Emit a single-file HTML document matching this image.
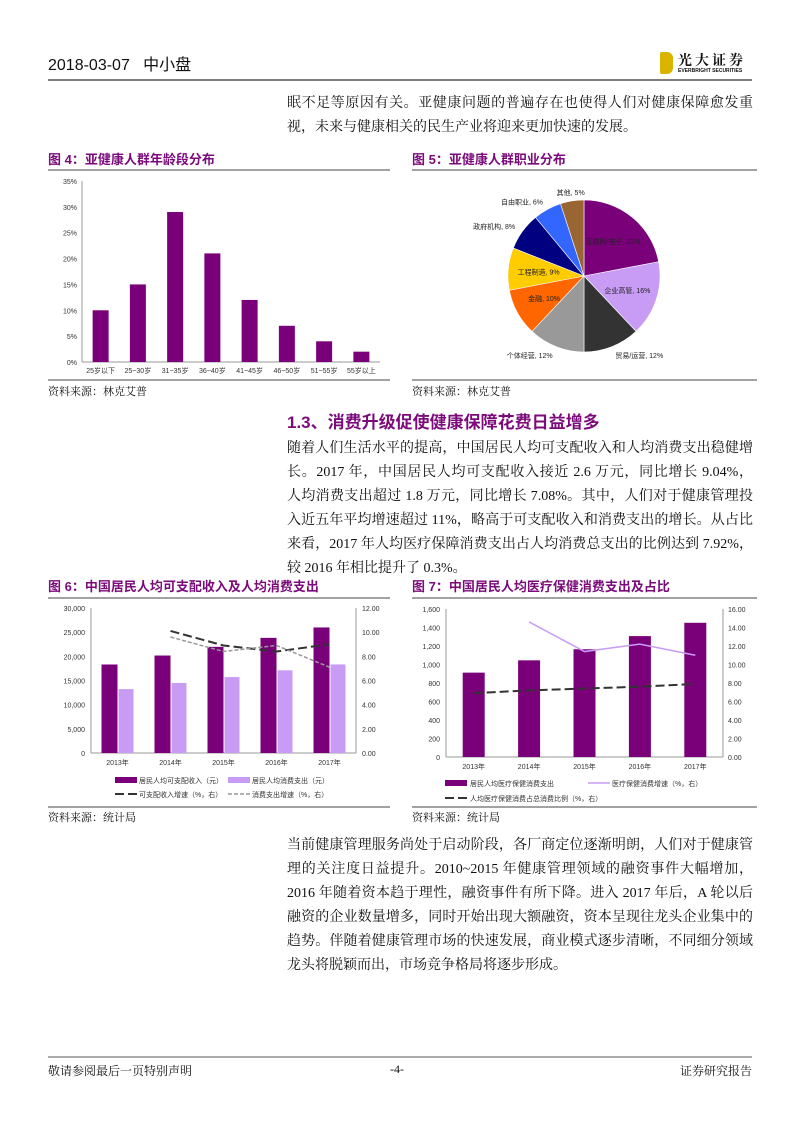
<!DOCTYPE html>
<html><head><meta charset="utf-8">
<style>
body{margin:0;background:#fff;}
#page{position:relative;width:800px;height:1132px;overflow:hidden;background:#fff;font-family:"Liberation Serif","Noto Serif CJK SC",serif;color:#111;}
.ln{position:absolute;left:287px;width:466px;font-size:14px;line-height:18px;white-space:nowrap;text-align:justify;text-align-last:justify;}
.ln.last{text-align-last:left;}
.abs{position:absolute;white-space:nowrap;}
.ftitle{font-family:"Liberation Sans","Noto Sans CJK SC",sans-serif;font-weight:bold;font-size:13px;color:#7b0a7b;}
.src{font-size:11px;font-family:"Liberation Serif","Noto Serif CJK SC",serif;}
svg text{font-family:"Liberation Sans","Noto Sans CJK SC",sans-serif;}
</style></head><body>
<div id="page">
<div class="abs" style="left:48px;top:56px;font-size:16px;line-height:20px;font-family:'Liberation Sans','Noto Sans CJK SC',sans-serif;">2018-03-07&nbsp;&nbsp;&nbsp;中小盘</div>
<div class="abs" style="left:660px;top:52px;">
  <div style="position:absolute;left:0;top:0;width:13px;height:22px;background:#d9b400;border-radius:2px 6px 6px 2px;"></div>
  <div style="position:absolute;left:18px;top:-2px;font-size:14px;font-weight:bold;font-family:'Noto Serif CJK SC',serif;letter-spacing:3px;">光大证券</div>
  <div style="position:absolute;left:18px;top:16px;font-size:5px;font-weight:bold;font-family:'Liberation Sans',sans-serif;">EVERBRIGHT SECURITIES</div>
</div>

<div class="ln" style="top:95px">眠不足等原因有关。亚健康问题的普遍存在也使得人们对健康保障愈发重</div>
<div class="ln last" style="top:119px">视，未来与健康相关的民生产业将迎来更加快速的发展。</div>

<div class="abs ftitle" style="left:48px;top:149px">图 4：亚健康人群年龄段分布</div>
<div class="abs ftitle" style="left:412px;top:149px">图 5：亚健康人群职业分布</div>
<div class="abs src" style="left:48px;top:383px">资料来源：林克艾普</div>
<div class="abs src" style="left:412px;top:383px">资料来源：林克艾普</div>

<div class="abs" style="left:287px;top:408px;font-size:17px;font-weight:bold;color:#7b0a7b;font-family:'Liberation Sans','Noto Sans CJK SC',sans-serif;">1.3、消费升级促使健康保障花费日益增多</div>
<div class="ln" style="top:440px">随着人们生活水平的提高，中国居民人均可支配收入和人均消费支出稳健增</div>
<div class="ln" style="top:464px">长。2017 年，中国居民人均可支配收入接近 2.6 万元，同比增长 9.04%，</div>
<div class="ln" style="top:488px">人均消费支出超过 1.8 万元，同比增长 7.08%。其中，人们对于健康管理投</div>
<div class="ln" style="top:512px">入近五年平均增速超过 11%，略高于可支配收入和消费支出的增长。从占比</div>
<div class="ln" style="top:536px">来看，2017 年人均医疗保障消费支出占人均消费总支出的比例达到 7.92%，</div>
<div class="ln last" style="top:560px">较 2016 年相比提升了 0.3%。</div>

<div class="abs ftitle" style="left:48px;top:576px">图 6：中国居民人均可支配收入及人均消费支出</div>
<div class="abs ftitle" style="left:412px;top:576px">图 7：中国居民人均医疗保健消费支出及占比</div>
<div class="abs src" style="left:48px;top:809px">资料来源：统计局</div>
<div class="abs src" style="left:412px;top:809px">资料来源：统计局</div>

<div class="ln" style="top:837px">当前健康管理服务尚处于启动阶段，各厂商定位逐渐明朗，人们对于健康管</div>
<div class="ln" style="top:861px">理的关注度日益提升。2010~2015 年健康管理领域的融资事件大幅增加，</div>
<div class="ln" style="top:885px">2016 年随着资本趋于理性，融资事件有所下降。进入 2017 年后，A 轮以后</div>
<div class="ln" style="top:909px">融资的企业数量增多，同时开始出现大额融资，资本呈现往龙头企业集中的</div>
<div class="ln" style="top:933px">趋势。伴随着健康管理市场的快速发展，商业模式逐步清晰，不同细分领域</div>
<div class="ln last" style="top:957px">龙头将脱颖而出，市场竞争格局将逐步形成。</div>

<div class="abs" style="left:48px;top:1062px;font-size:12px;">敬请参阅最后一页特别声明</div>
<div class="abs" style="left:390px;top:1062px;font-size:12px;">-4-</div>
<div class="abs" style="left:680px;top:1062px;font-size:12px;">证券研究报告</div>

<svg id="svg" width="800" height="1132" style="position:absolute;left:0;top:0"></svg>
</div>
<script>
// Figure 4 data
const ageCats = ['25岁以下','25~30岁','31~35岁','36~40岁','41~45岁','46~50岁','51~55岁','55岁以上'];
const ageVals = [10,15,29,21,12,7,4,2];
const ageTicks = ['0%','5%','10%','15%','20%','25%','30%','35%'];
// Figure 5 data
const jobCats = ['互联网/电子','企业高管','贸易/运营','个体经营','金融','工程制造','政府机构','自由职业','其他'];
const jobVals = [22,16,12,12,10,9,8,6,5];
// Figure 6 data
const years = ['2013年','2014年','2015年','2016年','2017年'];
const income = [18311,20167,21966,23821,25974];
const spend = [13220,14491,15712,17111,18322];
const incomeGrowth = [null,10.1,8.9,8.4,9.0];
const spendGrowth = [null,9.6,8.4,8.9,7.1];
const f6LeftTicks = ['0','5,000','10,000','15,000','20,000','25,000','30,000'];
const f6RightTicks = ['0.00','2.00','4.00','6.00','8.00','10.00','12.00'];
// Figure 7 data
const medSpend = [912,1045,1165,1307,1451];
const medGrowth = [null,14.6,11.4,12.2,11.0];
const medRatio = [6.9,7.2,7.4,7.6,7.9];
const f7LeftTicks = ['0','200','400','600','800','1,000','1,200','1,400','1,600'];
const f7RightTicks = ['0.00','2.00','4.00','6.00','8.00','10.00','12.00','14.00','16.00'];

const svg = document.getElementById('svg');
const NS = 'http://www.w3.org/2000/svg';
function mk(tag, attrs, parent, txt){
  const e = document.createElementNS(NS, tag);
  for (const k in attrs) e.setAttribute(k, attrs[k]);
  if (txt !== undefined) e.textContent = txt;
  (parent || svg).appendChild(e);
  return e;
}
const PUR = '#7a007a', LPUR = '#c89cf5';

let l;
l = mk('line',{x1:48,y1:80,x2:752,y2:80,stroke:'#555','stroke-width':1.5});
 
[[48,390,170],[412,757,170],[48,390,380],[412,757,380],[48,390,598],[412,757,598],[48,390,807],[412,757,807]].forEach(p=>{
  const r = mk('line',{x1:p[0],y1:p[2],x2:p[1],y2:p[2],stroke:'#444','stroke-width':1});
   
});
l = mk('line',{x1:48,y1:1057,x2:752,y2:1057,stroke:'#555','stroke-width':1});
 

// ---------- Figure 4 ----------
(function(){
  const g = mk('g',{});
   
  const x0 = 82, x1 = 380, y0 = 362, yTop = 181, max = 35;
  const y = v => y0 - v/max*(y0-yTop);
  const step = (x1-x0)/ageCats.length;
  const cx = i => x0 + step*(i+0.5);
  mk('line',{x1:x0,y1:yTop,x2:x0,y2:y0,stroke:'#999'},g);
  mk('line',{x1:x0,y1:y0,x2:x1,y2:y0,stroke:'#999'},g);
  ageTicks.forEach((t,i)=>{
    const v = i*5;
    const tx = mk('text',{x:x0-5,y:y(v)+3,'font-size':7,'text-anchor':'end',fill:'#333'},g,t);
     
  });
  ageCats.forEach((c,i)=>{
    const b = mk('rect',{x:cx(i)-8,y:y(ageVals[i]),width:16,height:y0-y(ageVals[i]),fill:PUR},g);
     
    const tx = mk('text',{x:cx(i),y:y0+11,'font-size':7,'text-anchor':'middle',fill:'#333'},g,c);
     
  });
})();

// ---------- Figure 5 ----------
(function(){
  const g = mk('g',{});
   
  const cx = 584, cy = 276, r = 76;
  const cols = ['#7a007a','#c89cf5','#333333','#999999','#ff6600','#ffcc00','#000080','#3366ff','#996633'];
  const total = jobVals.reduce((a,b)=>a+b,0);
  let a = -Math.PI/2;
  jobVals.forEach((v,i)=>{
    const da = v/total*2*Math.PI;
    const a2 = a+da;
    const p = `M${cx},${cy} L${cx+r*Math.cos(a)},${cy+r*Math.sin(a)} A${r},${r} 0 ${da>Math.PI?1:0} 1 ${cx+r*Math.cos(a2)},${cy+r*Math.sin(a2)} Z`;
    const s = mk('path',{d:p,fill:cols[i],stroke:'#fff','stroke-width':0.6},g);
     
    const m = (a+a2)/2;
    const inside = i<=1 || i===4 || i===5;
    const rr = inside ? r*0.6 : r*1.12;
    let lx = cx+rr*Math.cos(m), ly = cy+rr*Math.sin(m)+3;
    const anchor = inside ? 'middle' : (Math.cos(m) > 0.2 ? 'start' : (Math.cos(m) < -0.2 ? 'end' : 'middle'));
    const tx = mk('text',{x:lx,y:ly,'font-size':7,'text-anchor':anchor,fill:'#222'},g,jobCats[i]+', '+v+'%');
     
    a = a2;
  });
})();

// ---------- Figure 6 ----------
(function(){
  const g = mk('g',{});
   
  const x0 = 91, x1 = 356, y0 = 753, yTop = 608;
  const yl = v => y0 - v/30000*(y0-yTop);
  const yr = v => y0 - v/12*(y0-yTop);
  const step = (x1-x0)/years.length;
  const cx = i => x0 + step*(i+0.5);
  mk('line',{x1:x0,y1:yTop,x2:x0,y2:y0,stroke:'#999'},g);
  mk('line',{x1:x1,y1:yTop,x2:x1,y2:y0,stroke:'#999'},g);
  mk('line',{x1:x0,y1:y0,x2:x1,y2:y0,stroke:'#999'},g);
  f6LeftTicks.forEach((t,i)=>{
    const tx = mk('text',{x:x0-6,y:yl(i*5000)+3,'font-size':7,'text-anchor':'end',fill:'#333'},g,t);
     
  });
  f6RightTicks.forEach((t,i)=>{
    const tx = mk('text',{x:x1+6,y:yr(i*2)+3,'font-size':7,'text-anchor':'start',fill:'#333'},g,t);
     
  });
  years.forEach((yv,i)=>{
    let b = mk('rect',{x:cx(i)-16,y:yl(income[i]),width:16,height:y0-yl(income[i]),fill:PUR},g);
     
    b = mk('rect',{x:cx(i)+1,y:yl(spend[i]),width:15,height:y0-yl(spend[i]),fill:LPUR},g);
     
    const tx = mk('text',{x:cx(i),y:765,'font-size':7,'text-anchor':'middle',fill:'#333'},g,yv);
     
  });
  function line(arr,col,dash,w,name){
    const pts = []; arr.forEach((v,i)=>{ if(v!==null) pts.push(cx(i)+','+yr(v)); });
    const p = mk('polyline',{points:pts.join(' '),fill:'none',stroke:col,'stroke-width':w,'stroke-dasharray':dash},g);
     
  }
  line(incomeGrowth,'#333','9,4',2,'line-income-growth');
  line(spendGrowth,'#999','4,2',1.5,'line-spend-growth');
  let e;
  e = mk('rect',{x:115,y:777,width:22,height:6,fill:PUR},g);  
  e = mk('text',{x:139,y:783,'font-size':7,fill:'#333'},g,'居民人均可支配收入（元）');  
  e = mk('rect',{x:228,y:777,width:22,height:6,fill:LPUR},g);  
  e = mk('text',{x:252,y:783,'font-size':7,fill:'#333'},g,'居民人均消费支出（元）');  
  e = mk('line',{x1:115,y1:794,x2:137,y2:794,stroke:'#333','stroke-width':2,'stroke-dasharray':'9,4'},g);  
  e = mk('text',{x:139,y:797,'font-size':7,fill:'#333'},g,'可支配收入增速（%，右）');  
  e = mk('line',{x1:228,y1:794,x2:250,y2:794,stroke:'#999','stroke-width':1.5,'stroke-dasharray':'4,2'},g);  
  e = mk('text',{x:252,y:797,'font-size':7,fill:'#333'},g,'消费支出增速（%，右）');  
})();

// ---------- Figure 7 ----------
(function(){
  const g = mk('g',{});
   
  const x0 = 446, x1 = 723, y0 = 757, yTop = 609;
  const yl = v => y0 - v/1600*(y0-yTop);
  const yr = v => y0 - v/16*(y0-yTop);
  const step = (x1-x0)/years.length;
  const cx = i => x0 + step*(i+0.5);
  mk('line',{x1:x0,y1:yTop,x2:x0,y2:y0,stroke:'#999'},g);
  mk('line',{x1:x1,y1:yTop,x2:x1,y2:y0,stroke:'#999'},g);
  mk('line',{x1:x0,y1:y0,x2:x1,y2:y0,stroke:'#999'},g);
  f7LeftTicks.forEach((t,i)=>{
    const tx = mk('text',{x:x0-6,y:yl(i*200)+3,'font-size':7,'text-anchor':'end',fill:'#333'},g,t);
     
  });
  f7RightTicks.forEach((t,i)=>{
    const tx = mk('text',{x:x1+5,y:yr(i*2)+3,'font-size':7,'text-anchor':'start',fill:'#333'},g,t);
     
  });
  years.forEach((yv,i)=>{
    const b = mk('rect',{x:cx(i)-11,y:yl(medSpend[i]),width:22,height:y0-yl(medSpend[i]),fill:PUR},g);
     
    const tx = mk('text',{x:cx(i),y:769,'font-size':7,'text-anchor':'middle',fill:'#333'},g,yv);
     
  });
  function line(arr,col,dash,w,name){
    const pts = []; arr.forEach((v,i)=>{ if(v!==null) pts.push(cx(i)+','+yr(v)); });
    const p = mk('polyline',{points:pts.join(' '),fill:'none',stroke:col,'stroke-width':w,'stroke-dasharray':dash},g);
     
  }
  line(medGrowth,'#c89cf5','none',1.5,'line-medical-growth');
  line(medRatio,'#333','9,4',2,'line-medical-ratio');
  let e;
  e = mk('rect',{x:445,y:780,width:22,height:6,fill:PUR},g);  
  e = mk('text',{x:470,y:786,'font-size':7,fill:'#333'},g,'居民人均医疗保健消费支出');  
  e = mk('line',{x1:588,y1:783,x2:610,y2:783,stroke:'#c89cf5','stroke-width':1.5},g);  
  e = mk('text',{x:612,y:786,'font-size':7,fill:'#333'},g,'医疗保健消费增速（%，右）');  
  e = mk('line',{x1:445,y1:798,x2:467,y2:798,stroke:'#333','stroke-width':2,'stroke-dasharray':'9,4'},g);  
  e = mk('text',{x:470,y:801,'font-size':7,fill:'#333'},g,'人均医疗保健消费占总消费比例（%，右）');  
})();
</script>
</body></html>
